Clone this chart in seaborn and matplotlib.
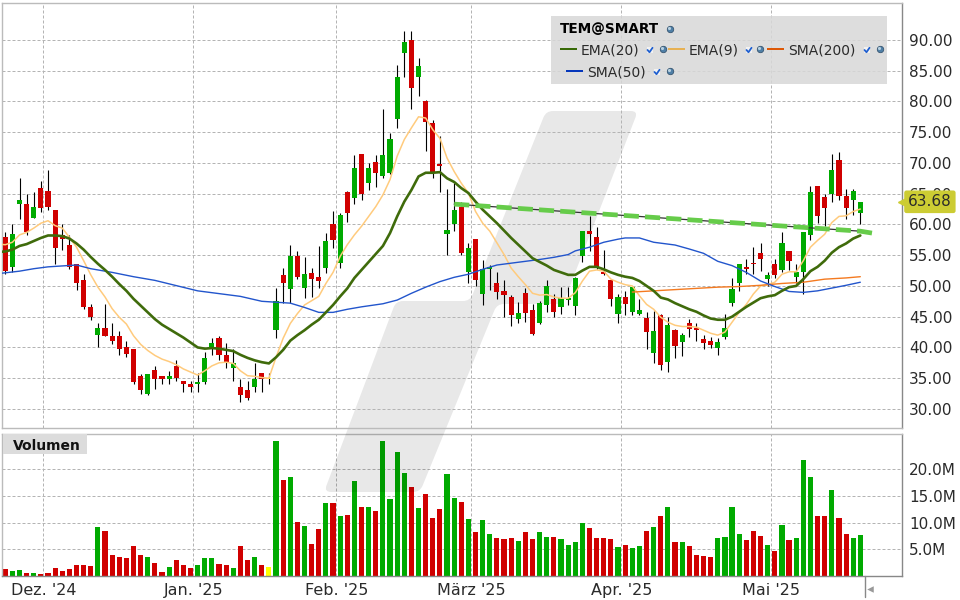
"""TEM@SMART daily candles with moving averages and volume."""

import matplotlib.pyplot as plt
import numpy as np
import pandas as pd
import seaborn as sns
from matplotlib.patches import PathPatch, Rectangle
from matplotlib.path import Path

GREEN = '#00aa00'
RED = '#d00000'
YELLOW = '#ffff00'
GRID = '#b4b4b4'
FRAME = '#bbbbbb'
FRAME_DARK = '#888888'
TEXT = '#2a2a2a'
W, H = 960, 600

highs = [
    58.8, 60.0, 67.5, 65.0, 65.3, 67.1, 68.9, 62.4, 60.1, 58.2, 53.5, 52.0, 47.1, 43.9, 47.1, 43.9,
    42.6, 41.0, 39.8, 35.6, 35.6, 36.9, 35.4, 36.1, 38.0, 34.6, 34.6, 35.8, 39.2, 41.6, 41.9, 40.8,
    39.7, 34.8, 34.6, 37.5, 35.9, 35.9, 49.7, 52.9, 56.7, 55.7, 54.7, 52.9, 56.5, 58.6, 62.2, 61.9,
    65.5, 71.3, 71.5, 70.0, 71.3, 78.7, 74.9, 86.0, 91.5, 91.4, 87.0, 80.3, 77.0, 74.3, 65.8, 66.8,
    63.7, 56.9, 57.7, 54.2, 53.4, 52.3, 51.0, 48.6, 47.4, 49.7, 47.1, 47.6, 51.0, 48.7, 49.9, 49.9,
    51.4, 59.0, 61.4, 59.5, 55.9, 51.0, 48.7, 49.1, 49.9, 47.8, 45.8, 46.0, 45.5, 45.0, 43.0, 42.4,
    44.7, 43.9, 42.1, 41.7, 41.6, 45.5, 51.3, 53.5, 54.4, 56.4, 56.9, 52.2, 54.3, 58.7, 55.7, 53.6,
    58.8, 66.3, 66.3, 65.0, 71.4, 71.8, 65.7, 65.7, 63.7,
]
opens = [
    58.0, 53.1, 63.4, 63.4, 61.0, 66.0, 65.5, 62.4, 58.2, 56.7, 53.5, 51.0, 46.5, 42.1, 43.2, 41.9,
    41.9, 40.0, 39.7, 35.3, 32.5, 36.4, 35.3, 34.8, 36.9, 34.6, 34.0, 34.0, 34.3, 40.0, 41.6, 38.8,
    36.7, 33.6, 33.1, 33.5, 35.8, 35.1, 42.9, 51.8, 49.5, 54.9, 49.7, 52.1, 51.5, 52.9, 60.1, 53.8,
    65.2, 64.3, 71.5, 66.8, 70.2, 67.9, 68.4, 77.2, 87.8, 90.0, 84.0, 80.1, 76.5, 69.9, 58.5, 60.1,
    62.9, 52.3, 57.7, 48.7, 52.8, 50.5, 49.2, 48.2, 44.6, 48.9, 46.1, 44.0, 46.9, 47.9, 46.5, 47.7,
    46.8, 54.9, 59.0, 57.9, 52.3, 51.0, 45.5, 48.2, 45.8, 45.5, 44.8, 39.1, 45.3, 37.7, 42.9, 40.9,
    44.0, 43.2, 41.4, 41.1, 39.9, 41.7, 47.3, 50.5, 53.1, 53.8, 55.4, 51.2, 53.5, 52.6, 55.6, 51.5,
    52.2, 58.3, 66.3, 64.5, 64.9, 70.5, 64.7, 64.0, 61.9,
]
closes = [
    52.5, 58.5, 63.9, 58.8, 62.9, 62.6, 62.9, 56.2, 57.7, 53.1, 50.4, 46.5, 45.0, 43.2, 41.9, 41.0,
    39.8, 39.0, 34.3, 33.0, 35.6, 34.9, 34.8, 35.3, 35.1, 34.0, 33.6, 34.3, 38.2, 40.8, 38.8, 37.5,
    37.5, 32.3, 31.8, 34.9, 34.8, 34.8, 47.6, 50.5, 54.9, 51.5, 52.0, 51.2, 50.8, 57.3, 57.5, 61.6,
    61.9, 69.2, 65.0, 69.1, 68.4, 71.3, 73.9, 83.9, 89.6, 82.1, 85.8, 76.7, 68.4, 69.5, 59.1, 62.4,
    55.4, 56.2, 51.0, 52.8, 53.1, 49.0, 48.6, 45.3, 45.6, 45.6, 42.2, 47.2, 50.0, 45.8, 48.0, 48.1,
    51.3, 59.0, 58.5, 53.1, 52.0, 47.8, 48.2, 47.1, 49.9, 46.1, 42.5, 42.7, 37.2, 43.7, 40.3, 42.1,
    43.0, 42.9, 40.8, 40.4, 40.9, 43.2, 49.5, 53.5, 52.8, 53.5, 54.3, 51.7, 51.8, 57.0, 54.0, 52.2,
    58.7, 65.2, 61.3, 62.6, 68.9, 64.7, 62.6, 65.5, 63.68,
]
lows = [
    52.0, 52.2, 60.8, 58.2, 61.0, 62.1, 62.4, 53.6, 55.8, 52.7, 49.4, 46.2, 44.4, 40.0, 41.8, 40.5,
    38.8, 38.5, 34.1, 32.5, 32.3, 33.3, 34.0, 34.0, 34.6, 32.8, 32.8, 32.8, 34.0, 38.7, 38.0, 36.6,
    34.6, 31.2, 31.5, 32.8, 32.8, 34.1, 41.6, 47.2, 47.2, 51.1, 48.1, 48.2, 49.7, 52.1, 56.2, 52.9,
    60.4, 63.4, 64.0, 65.6, 66.1, 67.6, 68.2, 75.7, 84.0, 78.7, 80.9, 72.0, 67.6, 65.3, 55.1, 59.0,
    55.1, 50.5, 50.0, 46.9, 49.4, 47.9, 45.0, 43.5, 44.0, 44.2, 42.0, 43.8, 45.8, 45.0, 45.5, 46.9,
    45.3, 53.9, 55.7, 52.8, 51.7, 46.8, 44.0, 45.3, 45.3, 45.3, 39.8, 37.5, 36.4, 36.0, 38.2, 38.6,
    41.7, 41.1, 39.8, 39.9, 38.8, 41.4, 46.8, 49.2, 52.0, 52.0, 52.5, 50.0, 51.3, 52.3, 52.6, 50.4,
    48.7, 57.4, 60.3, 59.8, 63.7, 64.0, 60.9, 61.6, 60.1,
]
volumes = [
    1.3, 0.9, 1.1, 0.6, 0.6, 0.4, 0.6, 1.5, 0.9, 1.3, 2.1, 2.1, 1.9, 9.2, 8.4, 3.9, 3.6, 3.4, 5.6, 3.9,
    3.6, 2.4, 0.8, 1.7, 3.0, 2.1, 1.5, 2.1, 3.4, 3.4, 2.3, 2.1, 1.5, 5.6, 3.0, 3.6, 2.1, 1.7, 25.3, 18.0,
    18.6, 10.1, 9.4, 6.0, 8.8, 13.7, 13.7, 11.3, 11.4, 17.8, 12.9, 12.9, 12.2, 25.3, 14.4, 23.3, 19.3,
    16.7, 12.8, 15.4, 10.9, 12.6, 19.1, 14.6, 13.9, 10.7, 8.3, 10.5, 7.9, 7.1, 6.9, 7.1, 6.6, 8.3, 6.9,
    8.3, 7.3, 7.3, 6.9, 5.8, 6.4, 9.9, 9.0, 7.1, 7.1, 6.9, 5.4, 5.8, 5.3, 5.6, 8.4, 9.2, 11.3, 12.9, 6.4,
    6.4, 5.6, 3.9, 3.8, 3.6, 7.1, 7.3, 12.9, 7.9, 6.8, 8.4, 7.5, 5.8, 4.7, 9.6, 6.8, 7.1, 21.8, 18.6,
    11.3, 11.3, 16.1, 10.9, 7.9, 7.1, 7.7,
]
flat_day = 37

# moving averages start one day left of the first candle so they reach the frame
ema20 = [
    55.5, 55.6, 55.9, 56.5, 56.8, 57.3, 57.8, 58.2, 58.2, 58.1, 57.7, 56.9, 55.9, 54.7, 53.6, 52.6, 51.5,
    50.3, 49.2, 47.9, 46.8, 45.7, 44.6, 43.7, 43.0, 42.3, 41.6, 40.8, 40.0, 39.8, 39.9, 39.8, 39.6, 39.4,
    38.8, 38.3, 37.9, 37.6, 37.4, 38.4, 39.6, 41.1, 42.0, 42.8, 43.7, 44.5, 45.7, 46.9, 48.3, 49.6, 51.3,
    52.6, 53.9, 55.2, 56.5, 58.6, 61.3, 63.7, 65.6, 67.8, 68.4, 68.4, 68.5, 67.5, 66.9, 65.9, 65.1, 63.7,
    62.4, 61.3, 60.2, 59.0, 57.8, 56.7, 55.6, 54.5, 53.9, 53.3, 52.6, 52.2, 51.8, 51.8, 52.5, 53.1, 53.1,
    52.7, 52.2, 51.8, 51.5, 51.3, 50.8, 50.0, 49.2, 48.1, 47.8, 47.2, 46.7, 46.2, 45.8, 45.2, 44.7, 44.5,
    44.5, 45.0, 45.8, 46.6, 47.3, 48.0, 48.3, 48.5, 49.2, 49.8, 50.0, 51.1, 52.4, 53.1, 54.1, 55.4, 56.3,
    56.9, 57.7, 58.2,
]
ema9 = [
    56.8, 56.7, 57.1, 58.3, 58.7, 59.4, 60.2, 60.6, 59.8, 59.4, 57.9, 56.3, 54.1, 51.8, 49.8, 48.2, 46.3,
    44.9, 43.8, 41.9, 40.5, 39.5, 38.7, 38.1, 37.7, 37.2, 36.5, 36.0, 35.5, 36.2, 37.0, 37.5, 37.6, 37.4,
    36.2, 35.4, 35.3, 35.1, 35.0, 38.4, 41.5, 43.9, 45.5, 46.9, 47.6, 48.3, 50.4, 52.2, 54.8, 56.7, 58.3,
    59.7, 61.3, 62.9, 64.8, 67.3, 71.1, 73.8, 75.7, 77.5, 77.3, 75.4, 74.0, 70.8, 68.6, 66.7, 65.1, 62.1,
    60.2, 58.9, 57.0, 55.1, 52.9, 51.5, 50.2, 48.8, 48.5, 48.6, 48.2, 48.0, 48.0, 48.9, 50.8, 52.4, 52.6,
    52.4, 51.1, 50.6, 50.2, 50.0, 48.4, 47.0, 46.2, 44.9, 44.1, 43.6, 43.4, 43.4, 43.3, 42.8, 42.3, 42.0,
    42.5, 44.1, 45.7, 47.0, 48.7, 50.0, 50.2, 50.6, 51.9, 52.3, 52.3, 54.1, 56.3, 57.4, 58.4, 60.3, 61.3,
    61.4, 62.1, 62.5,
]
sma50_days = [
    -1, 2, 4, 6, 8, 10, 12, 15, 18, 21, 24, 27, 30, 33, 36, 38, 40, 42, 44, 46, 48, 50, 53, 55, 57, 59, 61,
    63, 65, 67, 69, 71, 73, 75, 77, 79, 80, 82, 84, 86, 87, 89, 91, 94, 96, 98, 100, 102, 104, 106, 108,
    110, 112, 114, 116, 118, 120,
]
sma50 = [
    52.0, 52.4, 52.8, 53.1, 53.25, 53.4, 52.8, 52.2, 51.5, 50.9, 50.05, 49.2, 48.75, 48.3, 47.5, 47.35,
    47.2, 46.5, 45.7, 45.7, 46.2, 46.6, 47.1, 47.7, 48.8, 49.8, 50.7, 51.4, 51.9, 52.7, 53.4, 53.7, 54.0,
    54.3, 54.65, 55.1, 55.7, 56.3, 57.1, 57.6, 57.8, 57.8, 57.1, 56.65, 56.0, 55.3, 54.0, 53.3, 52.2,
    50.8, 49.9, 49.1, 48.95, 49.2, 49.65, 50.1, 50.6,
]
sma200_days = [88, 91, 94, 97, 100, 103, 106, 109, 112, 115, 118, 120]
sma200 = [49.0, 49.2, 49.4, 49.6, 49.8, 49.9, 50.1, 50.4, 50.6, 51.1, 51.3, 51.5]
trend_days = [63, 120, 122.4]
trend_prices = [63.3, 58.9, 58.45]

price_ticks = [30, 35, 40, 45, 50, 55, 60, 65, 70, 75, 80, 85, 90]
volume_ticks = [5, 10, 15, 20]
month_days = [5.35, 26.4, 46.45, 65.4, 86.45, 107.5]
month_labels = ["Dez. '24", "Jan. '25", "Feb. '25", "März '25", "Apr. '25", "Mai '25"]
legend_top = ['EMA(20)', 'EMA(9)', 'SMA(200)']
legend_bottom = 'SMA(50)'
title = 'TEM@SMART'
panel_title = 'Volumen'

# watermark outline in figure pixels, corners get rounded in rounded_path
WATERMARK = [(546, 111), (638, 111), (563, 304), (497, 304), (420, 492), (324, 492), (396, 301), (470, 301)]


def rounded_path(points, radius=7):
    verts, codes = [], []
    pts = np.array(points, dtype=float)
    for i, p in enumerate(pts):
        before, after = pts[i - 1], pts[(i + 1) % len(pts)]
        a = p + (before - p) / np.linalg.norm(before - p) * radius
        b = p + (after - p) / np.linalg.norm(after - p) * radius
        verts += [a, p, b]
        codes += [Path.LINETO if i else Path.MOVETO, Path.CURVE3, Path.CURVE3]
    verts.append(verts[0])
    codes.append(Path.CLOSEPOLY)
    return Path(verts, codes)


def pixel_axes(fig, bounds):
    left, top, right, bottom = bounds
    return fig.add_axes([left / W, 1 - bottom / H, (right - left) / W, (bottom - top) / H])


def overlay_axes(fig, zorder):
    ax = pixel_axes(fig, (0, 0, W, H))
    ax.set_zorder(zorder)
    ax.set_xlim(0, W)
    ax.set_ylim(H, 0)
    ax.axis('off')
    return ax


def style_panel(ax, bottom_color):
    ax.set_facecolor('none')
    ax.grid(True, color=GRID, linewidth=0.72, linestyle=(0, (3, 2)))
    ax.set_axisbelow(True)
    ax.yaxis.tick_right()
    ax.set_xlim(-0.46, 125.85)
    ax.set_xticks(month_days)
    for side, color in [('top', FRAME), ('left', FRAME), ('right', FRAME_DARK), ('bottom', bottom_color)]:
        ax.spines[side].set_visible(True)
        ax.spines[side].set_color(color)
        ax.spines[side].set_linewidth(1.0)
    ax.set_xlabel('')
    ax.set_ylabel('')


def draw_candles(ax, days):
    colors = [GREEN if c > o else RED for o, c in zip(opens, closes)]
    colors[flat_day] = YELLOW
    body_low = np.minimum(opens, closes)
    body_height = np.abs(np.array(closes) - np.array(opens))
    ax.vlines(days, lows, highs, color='black', linewidth=0.8, zorder=3)
    ax.bar(days, body_height, bottom=body_low, width=0.72, color=colors, linewidth=0, zorder=4)


def draw_averages(ax, days):
    line_days = np.arange(-1, len(days))
    sns.lineplot(x=line_days, y=ema9, color='#ffcb7d', linewidth=1.1, ax=ax, zorder=5)
    sns.lineplot(x=sma200_days, y=sma200, color='#f47a20', linewidth=1.0, ax=ax, zorder=5)
    sns.lineplot(x=sma50_days, y=sma50, color='#2255cc', linewidth=1.0, ax=ax, zorder=5)
    sns.lineplot(x=line_days, y=ema20, color='#3f6b0b', linewidth=1.9, ax=ax, zorder=6)
    ax.plot(trend_days[:2], trend_prices[:2], color='#333333', linewidth=0.9, zorder=7)
    ax.plot(trend_days, trend_prices, color='#66cc4a', linewidth=3.4,
            linestyle=(0, (3.2, 1.3)), dash_capstyle='butt', zorder=8)


def draw_last_price(ax):
    last = closes[-1]
    ax.plot([1.0], [last], marker='<', markersize=6, color='#cccc33', linewidth=0,
            transform=ax.get_yaxis_transform(), clip_on=False, zorder=20)
    ax.text(1.0067, last, f'{last:.2f}', transform=ax.get_yaxis_transform(), va='center', ha='left',
            fontsize=11, color=TEXT, zorder=21, clip_on=False,
            bbox=dict(boxstyle='round,pad=0.25,rounding_size=0.15', facecolor='#cccc33', edgecolor='none'))


def icon_globe(ax, x, y):
    ax.scatter([x], [y], s=22, color='#4f7fa6', edgecolor='#2c4a66', linewidth=0.5, zorder=12)
    ax.scatter([x - 0.8], [y - 0.8], s=5, color='#b8d0e0', linewidth=0, zorder=13)


def icon_check(ax, x, y):
    ax.scatter([x], [y], s=22, marker='s', color='#f2f2f2', linewidth=0, zorder=12)
    ax.plot([x - 2.5, x - 0.5, x + 2.5], [y, y + 2.2, y - 2.2], color='#1f5fd0', linewidth=1.3, zorder=13)


def draw_legend(ax):
    ax.add_patch(Rectangle((551, 16), 336, 68, facecolor='#d8d8d8', alpha=0.85, linewidth=0, zorder=10))
    ax.text(560, 29, title, fontsize=9.8, fontweight='bold', color='black', va='center', zorder=11)
    icon_globe(ax, 670, 29)
    entries = [
        (560, 50, legend_top[0], '#336600', 650, 663),
        (668, 50, legend_top[1], '#e8b050', 749, 760),
        (767, 50, legend_top[2], '#dd5500', 867, 880),
        (566, 72, legend_bottom, '#0033bb', 657, 670),
    ]
    for x, y, label, color, check_x, globe_x in entries:
        ax.plot([x, x + 17], [y - 1, y - 1], color=color, linewidth=1.4, solid_capstyle='butt', zorder=11)
        ax.text(x + 21, y, label, fontsize=10, color=TEXT, va='center', zorder=11)
        icon_check(ax, check_x, y)
        icon_globe(ax, globe_x, y - 1)


def main():
    sns.set_theme(style='white')
    plt.rcParams['font.family'] = ['DejaVu Sans']
    fig = plt.figure(figsize=(W / 100, H / 100), dpi=100, facecolor='white')

    days = np.arange(len(closes))
    kinds = ['flat' if d == flat_day else 'up' if c > o else 'down'
             for d, o, c in zip(days, opens, closes)]
    volume_frame = pd.DataFrame({'day': days, 'volume': volumes, 'kind': kinds})

    ax_volume = pixel_axes(fig, (2, 433.5, 902, 576))
    ax_volume.set_zorder(1)
    sns.barplot(data=volume_frame, x='day', y='volume', hue='kind', dodge=False, native_scale=True,
                palette={'up': GREEN, 'down': RED, 'flat': YELLOW}, width=0.72, saturation=1,
                errorbar=None, legend=False, linewidth=0, ax=ax_volume)
    style_panel(ax_volume, FRAME_DARK)
    ax_volume.set_ylim(0, 26.72)
    ax_volume.set_yticks(volume_ticks)
    ax_volume.set_yticklabels([f'{v:.1f}M' for v in volume_ticks])
    ax_volume.set_xticklabels(month_labels)
    ax_volume.tick_params(axis='y', length=0, pad=5, labelsize=11, labelcolor=TEXT)
    ax_volume.tick_params(axis='x', length=0, pad=5, labelsize=11.5, labelcolor=TEXT)
    ax_volume.add_patch(Rectangle((0.001, 0.855), 0.0935, 0.14, transform=ax_volume.transAxes,
                                  facecolor='#dcdcdc', linewidth=0, zorder=6))
    ax_volume.text(0.0502, 0.91, panel_title, transform=ax_volume.transAxes, fontsize=10, fontweight='bold',
                   color='#111111', ha='center', va='center', zorder=7)

    # watermark sits between the two panels: it shades the volume bars but not the candles
    ax_mark = overlay_axes(fig, 2)
    ax_mark.add_patch(PathPatch(rounded_path(WATERMARK), facecolor='black', edgecolor='none', alpha=0.09))

    ax_price = pixel_axes(fig, (2, 3, 902, 428))
    ax_price.set_zorder(3)
    draw_candles(ax_price, days)
    draw_averages(ax_price, days)
    style_panel(ax_price, FRAME)
    ax_price.set_ylim(26.9, 96.0)
    ax_price.set_yticks(price_ticks)
    ax_price.set_yticklabels([f'{p:.2f}' for p in price_ticks])
    ax_price.tick_params(axis='y', length=0, pad=5, labelsize=11, labelcolor=TEXT)
    ax_price.tick_params(axis='x', length=0, labelbottom=False)
    draw_last_price(ax_price)

    ax_top = overlay_axes(fig, 4)
    draw_legend(ax_top)
    ax_top.plot([864.5, 864.5], [576, 597], color=FRAME_DARK, linewidth=1.0)
    ax_top.scatter([870], [589], s=22, marker='<', color='#999999', linewidth=0)

    fig.savefig('out.png', dpi=100)


if __name__ == '__main__':
    main()
